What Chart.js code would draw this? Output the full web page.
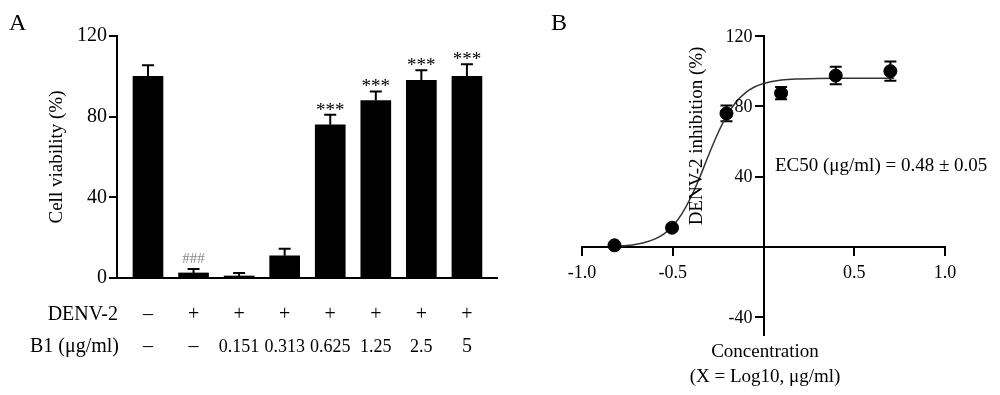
<!DOCTYPE html>
<html>
<head>
<meta charset="utf-8">
<script src="https://cdn.jsdelivr.net/npm/chart.js@4.4.1/dist/chart.umd.min.js"></script>
<style>
  html, body { margin: 0; padding: 0; background: #fff; }
  #wrapA { position: absolute; left: 0; top: 0; width: 520px; height: 395px; }
  #wrapB { position: absolute; left: 520px; top: 0; width: 480px; height: 395px; }
</style>
</head>
<body>
<div id="wrapA"><canvas id="chartA"></canvas></div>
<div id="wrapB"><canvas id="chartB"></canvas></div>
<script>
// 패널 A - 세포 생존율
const groups = [0, 1, 2, 3, 4, 5, 6, 7];
const denvRow = ["–", "+", "+", "+", "+", "+", "+", "+"];
const b1Row = ["–", "–", "0.151", "0.313", "0.625", "1.25", "2.5", "5"];
const viability = [100, 2.5, 1, 11, 76, 88, 98, 100];
const viabilityErr = [5.5, 2, 1.5, 3.5, 5, 4.5, 5, 6];
const signif = ["", "###", "", "", "***", "***", "***", "***"];
const yTicksA = [0, 40, 80, 120];

// 패널 B - 억제율 (X = log10 농도)
const logConc = [-0.821, -0.504, -0.204, 0.097, 0.398, 0.699];
const inhibition = [1, 11, 76, 87.5, 97.5, 100];
const inhibitionErr = [0.5, 0.5, 4.5, 3.5, 5, 5.5];
const fitX = [-0.82, -0.75, -0.7, -0.65, -0.6, -0.55, -0.5, -0.45, -0.4, -0.35, -0.3, -0.25, -0.2, -0.15, -0.1, -0.05, 0, 0.1, 0.2, 0.4, 0.72];
const fitY = [0.4, 0.9, 1.6, 2.7, 4.5, 7.4, 12, 18.9, 28.3, 40, 52.9, 65, 75.1, 82.6, 87.7, 91, 93, 95, 95.6, 96, 96];
const xTicksB = [-1, -0.5, 0.5, 1];
const yTicksB = [-40, 40, 80, 120];

const SERIF = '"Liberation Serif", "Times New Roman", serif';
Chart.defaults.font.family = SERIF;
Chart.defaults.color = "#000";

// 에러바, 유의성 표시, 하단 표
const annotateA = {
  id: "annotateA",
  afterDatasetsDraw(chart) {
    const { ctx, scales: { x, y } } = chart;
    ctx.save();
    ctx.strokeStyle = "#000";
    ctx.lineWidth = 2;
    groups.forEach((g, i) => {
      const px = x.getPixelForValue(g);
      const base = y.getPixelForValue(viability[i]);
      const top = y.getPixelForValue(viability[i] + viabilityErr[i]);
      ctx.beginPath();
      ctx.moveTo(px, base);
      ctx.lineTo(px, top);
      ctx.moveTo(px - 6, top);
      ctx.lineTo(px + 6, top);
      ctx.stroke();
      if (signif[i] === "***") {
        ctx.fillStyle = "#000";
        ctx.font = "19px " + SERIF;
        ctx.textAlign = "center";
        ctx.textBaseline = "alphabetic";
        ctx.fillText(signif[i], px, top + 1);
      } else if (signif[i]) {
        ctx.fillStyle = "#888";
        ctx.font = "15px " + SERIF;
        ctx.textAlign = "center";
        ctx.textBaseline = "alphabetic";
        ctx.fillText(signif[i], px, top - 6);
      }
    });

    // 아래 표
    ctx.fillStyle = "#000";
    ctx.textBaseline = "middle";
    ctx.textAlign = "right";
    ctx.font = "20px " + SERIF;
    ctx.fillText("DENV-2", 118, 315);
    ctx.fillText("B1 (μg/ml)", 119, 347);
    ctx.textAlign = "center";
    groups.forEach((g, i) => {
      const px = x.getPixelForValue(g);
      ctx.font = "20px " + SERIF;
      ctx.fillText(denvRow[i], px, 315);
      ctx.font = (b1Row[i].length > 1 ? "18px " : "20px ") + SERIF;
      ctx.fillText(b1Row[i], px, 347);
    });

    ctx.textAlign = "left";
    ctx.textBaseline = "alphabetic";
    ctx.font = "24px " + SERIF;
    ctx.fillText("A", 9, 30);
    ctx.restore();
  }
};

new Chart(document.getElementById("chartA"), {
  type: "bar",
  data: {
    datasets: [{
      data: groups.map((g, i) => ({ x: g, y: viability[i] })),
      backgroundColor: "#000",
      barThickness: 30
    }]
  },
  options: {
    responsive: true,
    maintainAspectRatio: false,
    animation: false,
    layout: { padding: { left: 0, right: 23, top: 36, bottom: 117 } },
    plugins: { legend: { display: false }, tooltip: { enabled: false } },
    scales: {
      x: {
        type: "linear",
        offset: false,
        min: -0.68,
        max: 7.66,
        ticks: { display: false },
        grid: { display: false },
        border: { color: "#000", width: 2 },
        afterFit: (s) => { s.height = 0; }
      },
      y: {
        min: 0,
        max: 120,
        afterBuildTicks: (s) => { s.ticks = yTicksA.map((v) => ({ value: v })); },
        afterFit: (s) => { s.width = 117; },
        ticks: { font: { size: 20 }, padding: 2 },
        grid: { drawOnChartArea: false, tickLength: 8, color: "#000", lineWidth: 2 },
        border: { color: "#000", width: 2 },
        title: {
          display: true,
          text: "Cell viability (%)",
          font: { size: 19 },
          padding: { top: 46, bottom: 0 }
        }
      }
    }
  },
  plugins: [annotateA]
});

const annotateB = {
  id: "annotateB",
  beforeDatasetsDraw(chart) {
    const { ctx, scales: { x, y } } = chart;
    ctx.save();
    ctx.strokeStyle = "#000";
    ctx.lineWidth = 2;
    logConc.forEach((c, i) => {
      const px = x.getPixelForValue(c);
      const hi = y.getPixelForValue(inhibition[i] + inhibitionErr[i]);
      const lo = y.getPixelForValue(inhibition[i] - inhibitionErr[i]);
      ctx.beginPath();
      ctx.moveTo(px, lo);
      ctx.lineTo(px, hi);
      ctx.moveTo(px - 6, hi);
      ctx.lineTo(px + 6, hi);
      ctx.moveTo(px - 6, lo);
      ctx.lineTo(px + 6, lo);
      ctx.stroke();
    });
    ctx.restore();
  },
  afterDatasetsDraw(chart) {
    const { ctx, scales: { x, y } } = chart;
    ctx.save();
    ctx.fillStyle = "#000";

    // 눈금 라벨 (축이 0에서 교차하므로 직접 배치)
    ctx.font = "18px " + SERIF;
    ctx.textAlign = "center";
    ctx.textBaseline = "middle";
    const y0 = y.getPixelForValue(0);
    xTicksB.forEach((v) => ctx.fillText(v.toFixed(1), x.getPixelForValue(v), y0 + 26));
    ctx.textAlign = "right";
    const x0 = x.getPixelForValue(0);
    yTicksB.forEach((v) => ctx.fillText(String(v), x0 - 11, y.getPixelForValue(v) + 1));

    ctx.font = "24px " + SERIF;
    ctx.textAlign = "left";
    ctx.textBaseline = "alphabetic";
    ctx.fillText("B", 31, 30);

    ctx.font = "19px " + SERIF;
    ctx.textBaseline = "middle";
    ctx.fillText("EC50 (μg/ml) = 0.48 ± 0.05", 255, 166);

    ctx.textAlign = "center";
    ctx.fillText("Concentration", 245, 352);
    ctx.fillText("(X = Log10, μg/ml)", 245, 377);

    ctx.translate(177, 136);
    ctx.rotate(-Math.PI / 2);
    ctx.fillText("DENV-2 inhibition (%)", 0, 0);
    ctx.restore();
  }
};

new Chart(document.getElementById("chartB"), {
  type: "scatter",
  data: {
    datasets: [
      {
        data: logConc.map((c, i) => ({ x: c, y: inhibition[i] })),
        backgroundColor: "#000",
        borderColor: "#000",
        pointRadius: 6.5,
        order: 0
      },
      {
        type: "line",
        data: fitX.map((v, i) => ({ x: v, y: fitY[i] })),
        borderColor: "#333",
        borderWidth: 1.5,
        pointRadius: 0,
        cubicInterpolationMode: "monotone",
        fill: false,
        order: 1
      }
    ]
  },
  options: {
    responsive: true,
    maintainAspectRatio: false,
    animation: false,
    layout: { padding: { left: 62, right: 55, top: 36, bottom: 60 } },
    plugins: { legend: { display: false }, tooltip: { enabled: false } },
    scales: {
      x: {
        type: "linear",
        min: -1,
        max: 1,
        position: { y: 0 },
        afterBuildTicks: (s) => { s.ticks = xTicksB.map((v) => ({ value: v })); },
        afterFit: (s) => { s.height = 0; },
        ticks: { display: false },
        grid: { drawOnChartArea: false, tickLength: 8, color: "#000", lineWidth: 2 },
        border: { color: "#000", width: 2 }
      },
      y: {
        type: "linear",
        min: -50,
        max: 120,
        position: { x: 0 },
        afterBuildTicks: (s) => { s.ticks = yTicksB.map((v) => ({ value: v })); },
        afterFit: (s) => { s.width = 0; },
        ticks: { display: false },
        grid: { drawOnChartArea: false, tickLength: 8, color: "#000", lineWidth: 2 },
        border: { color: "#000", width: 2 }
      }
    }
  },
  plugins: [annotateB]
});
</script>
</body>
</html>
